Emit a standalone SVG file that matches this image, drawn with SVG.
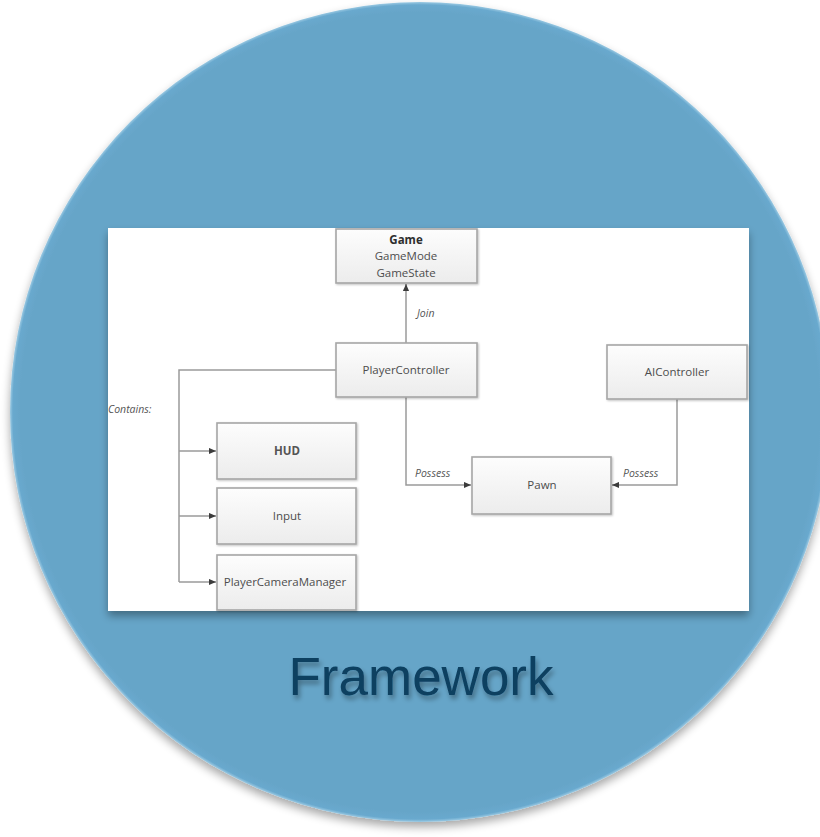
<svg xmlns="http://www.w3.org/2000/svg" width="820" height="837" viewBox="0 0 820 837">
  <defs>
    <filter id="discShadow" x="-10%" y="-10%" width="120%" height="125%">
      <feGaussianBlur in="SourceAlpha" stdDeviation="5"/>
      <feOffset dx="0" dy="5" result="b"/>
      <feComponentTransfer><feFuncA type="linear" slope="0.35"/></feComponentTransfer>
      <feMerge><feMergeNode/><feMergeNode in="SourceGraphic"/></feMerge>
    </filter>
    <filter id="panelShadow" x="-5%" y="-5%" width="110%" height="115%">
      <feGaussianBlur in="SourceAlpha" stdDeviation="4"/>
      <feOffset dx="0" dy="5" result="b"/>
      <feComponentTransfer><feFuncA type="linear" slope="0.35"/></feComponentTransfer>
      <feMerge><feMergeNode/><feMergeNode in="SourceGraphic"/></feMerge>
    </filter>
    <filter id="boxShadow" x="-5%" y="-10%" width="110%" height="125%">
      <feGaussianBlur in="SourceAlpha" stdDeviation="1"/>
      <feOffset dx="0.5" dy="1" result="b"/>
      <feComponentTransfer><feFuncA type="linear" slope="0.25"/></feComponentTransfer>
      <feMerge><feMergeNode/><feMergeNode in="SourceGraphic"/></feMerge>
    </filter>
    <filter id="titleShadow" x="-10%" y="-30%" width="120%" height="160%">
      <feGaussianBlur in="SourceAlpha" stdDeviation="2.5"/>
      <feOffset dx="2" dy="4" result="b"/>
      <feComponentTransfer><feFuncA type="linear" slope="0.35"/></feComponentTransfer>
      <feMerge><feMergeNode/><feMergeNode in="SourceGraphic"/></feMerge>
    </filter>
    <radialGradient id="discFill" cx="50%" cy="50%" r="50%">
      <stop offset="0.975" stop-color="#66a5c8"/>
      <stop offset="0.993" stop-color="#69a9ce"/>
      <stop offset="1" stop-color="#9ccae3"/>
    </radialGradient>
    <linearGradient id="boxFill" x1="0" y1="0" x2="0" y2="1">
      <stop offset="0" stop-color="#fdfdfd"/>
      <stop offset="1" stop-color="#ececec"/>
    </linearGradient>
    <marker id="arrow" viewBox="0 0 8 8" refX="8" refY="4" markerWidth="7" markerHeight="7" markerUnits="userSpaceOnUse" orient="auto">
      <path d="M0,0.5 L8,4 L0,7.5 Z" fill="#3c3c3c"/>
    </marker>
    <style>
      .box { fill: url(#boxFill); stroke: #a6a6a6; stroke-width: 1.6; filter: url(#boxShadow); }
      .lbl { font-family: "Open Sans", "Liberation Sans", sans-serif; font-size: 11.5px; fill: #4d4d4d; text-anchor: middle; }
      .bold { font-weight: bold; fill: #2e2e2e; }
      .note { font-family: "Open Sans", "Liberation Sans", sans-serif; font-size: 10.5px; font-style: italic; fill: #555555; }
      .wire { fill: none; stroke: #9a9a9a; stroke-width: 1.5; }
      .wire-arrow { fill: none; stroke: #9a9a9a; stroke-width: 1.5; marker-end: url(#arrow); }
    </style>
  </defs>

  <!-- background disc -->
  <circle cx="420" cy="412" r="410" fill="url(#discFill)" filter="url(#discShadow)"/>

  <!-- white diagram panel -->
  <rect x="108" y="228" width="641" height="383" fill="#ffffff" filter="url(#panelShadow)"/>

  <!-- connectors -->
  <g id="connectors">
    <path class="wire-arrow" d="M406,343 L406,284"/>
    <path class="wire" d="M336,370 L179,370 L179,582"/>
    <path class="wire-arrow" d="M179,451 L216,451"/>
    <path class="wire-arrow" d="M179,516 L216,516"/>
    <path class="wire-arrow" d="M179,582 L216,582"/>
    <path class="wire-arrow" d="M406,397 L406,485 L471,485"/>
    <path class="wire-arrow" d="M677,399 L677,485 L612,485"/>
    <text class="note" x="417" y="317">Join</text>
    <text class="note" x="108" y="413">Contains:</text>
    <text class="note" x="415" y="477">Possess</text>
    <text class="note" x="623" y="477">Possess</text>
  </g>

  <!-- nodes -->
  <g id="game">
    <rect class="box" x="336" y="229" width="141" height="54"/>
    <text class="lbl bold" x="406" y="244">Game</text>
    <text class="lbl" x="406" y="260">GameMode</text>
    <text class="lbl" x="406" y="277">GameState</text>
  </g>
  <g id="player-controller">
    <rect class="box" x="336" y="343" width="141" height="54"/>
    <text class="lbl" x="406" y="374">PlayerController</text>
  </g>
  <g id="ai-controller">
    <rect class="box" x="607" y="345" width="140" height="54"/>
    <text class="lbl" x="677" y="376">AIController</text>
  </g>
  <g id="hud">
    <rect class="box" x="217" y="423" width="139" height="56"/>
    <text class="lbl" x="287" y="455" style="font-weight:bold;fill:#555555">HUD</text>
  </g>
  <g id="input">
    <rect class="box" x="217" y="488" width="139" height="56"/>
    <text class="lbl" x="287" y="520">Input</text>
  </g>
  <g id="player-camera-manager">
    <rect class="box" x="217" y="555" width="139" height="55"/>
    <text class="lbl" x="285" y="586">PlayerCameraManager</text>
  </g>
  <g id="pawn">
    <rect class="box" x="472" y="457" width="139" height="57"/>
    <text class="lbl" x="542" y="489">Pawn</text>
  </g>

  <!-- caption -->
  <text x="421" y="695" font-family="Liberation Sans, Arial, sans-serif" font-size="53" fill="#0e3f60" text-anchor="middle" filter="url(#titleShadow)">Framework</text>
</svg>
